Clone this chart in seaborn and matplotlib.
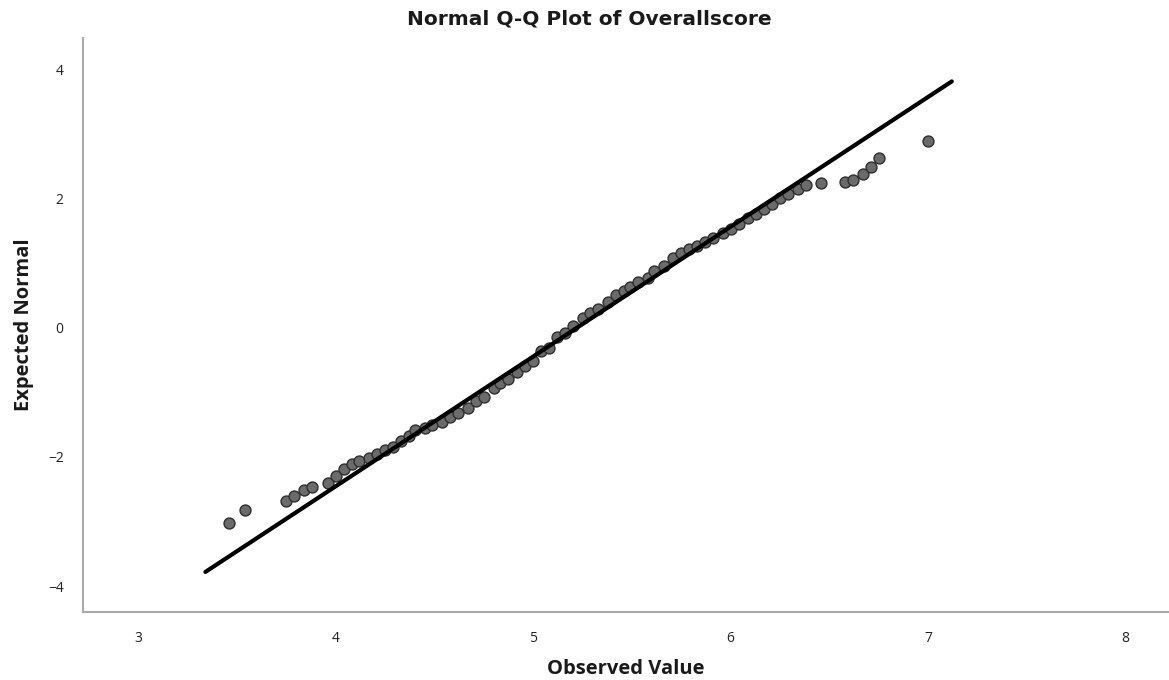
import numpy as np
import pandas as pd
import matplotlib
matplotlib.use('Agg')
import matplotlib.pyplot as plt
import seaborn as sns

# observed scores and their expected normal values
observed = [3.46, 3.54, 3.75, 3.79, 3.84, 3.88, 3.96, 4.00, 4.04, 4.08, 4.12, 4.17,
            4.21, 4.25, 4.29, 4.33, 4.37, 4.40, 4.45, 4.49, 4.54, 4.58, 4.62, 4.67,
            4.71, 4.75, 4.80, 4.83, 4.87, 4.92, 4.96, 5.00, 5.04, 5.08, 5.12, 5.16,
            5.20, 5.25, 5.29, 5.33, 5.38, 5.42, 5.46, 5.49, 5.53, 5.58, 5.61, 5.66,
            5.71, 5.75, 5.79, 5.83, 5.87, 5.91, 5.96, 6.00, 6.04, 6.09, 6.13, 6.17,
            6.21, 6.25, 6.29, 6.34, 6.38, 6.46, 6.58, 6.62, 6.67, 6.71, 6.75, 7.00]
expected = [-3.03, -2.82, -2.69, -2.60, -2.51, -2.46, -2.40, -2.29, -2.18, -2.11, -2.06, -2.01,
            -1.95, -1.90, -1.84, -1.75, -1.67, -1.58, -1.55, -1.50, -1.46, -1.39, -1.32, -1.24,
            -1.13, -1.08, -0.94, -0.85, -0.79, -0.68, -0.60, -0.51, -0.36, -0.31, -0.15, -0.08,
            0.03, 0.15, 0.22, 0.29, 0.39, 0.50, 0.57, 0.63, 0.70, 0.77, 0.88, 0.96,
            1.07, 1.15, 1.22, 1.27, 1.32, 1.39, 1.46, 1.53, 1.61, 1.69, 1.76, 1.84,
            1.92, 2.00, 2.07, 2.14, 2.20, 2.23, 2.26, 2.29, 2.38, 2.49, 2.63, 2.88]

# reference line end points
line_x = [3.34, 7.12]
line_y = [-3.78, 3.81]

xticks = [3, 4, 5, 6, 7, 8]
yticks = [-4, -2, 0, 2, 4]

sns.set_style('white')
plt.rcParams['font.family'] = ['Open Sans', 'DejaVu Sans']

dat = pd.DataFrame({'obs': observed, 'exp': expected})
ref = pd.DataFrame({'x': line_x, 'y': line_y})

fig = plt.figure(figsize=(11.69, 6.80), dpi=100)
ax = fig.add_axes([0.071, 0.10, 0.929, 0.844])

sns.scatterplot(x='obs', y='exp', data=dat, ax=ax, s=62, color='#6b6b6b',
                edgecolor='#2e2e2e', linewidth=1.0, zorder=2)
sns.lineplot(x='x', y='y', data=ref, ax=ax, color='black', linewidth=3, zorder=3)

ax.set_xlim(2.72, 8.22)
ax.set_ylim(-4.40, 4.48)
ax.set_xticks(xticks)
ax.set_yticks(yticks)
ax.tick_params(length=0, labelsize=10, colors='#222222')
ax.tick_params(axis='x', pad=14)
ax.tick_params(axis='y', pad=14)

sns.despine(ax=ax)
for sp in ['left', 'bottom']:
    ax.spines[sp].set_color('#aaaaaa')
    ax.spines[sp].set_linewidth(1.5)

ax.set_xlabel('Observed Value', fontsize=14.5, fontweight='bold', labelpad=9, color='#1a1a1a')
ax.set_ylabel('Expected Normal', fontsize=14.5, fontweight='bold', labelpad=10, color='#1a1a1a')
fig.text(0.504, 0.972, 'Normal Q-Q Plot of Overallscore', ha='center', va='center',
         fontsize=14.5, fontweight='bold', family=['DejaVu Sans'], color='#1a1a1a')

fig.savefig('out.png', dpi=100)
